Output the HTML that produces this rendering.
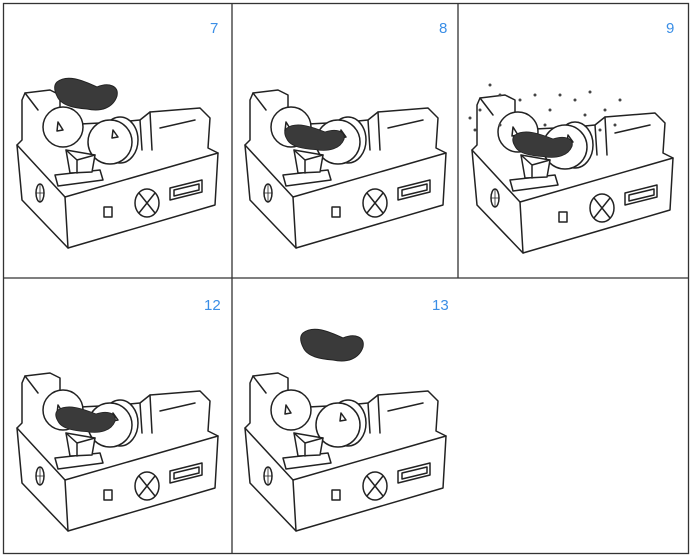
<!DOCTYPE html>
<html><head><style>html,body{margin:0;padding:0;background:#fff}svg{display:block}</style></head>
<body>
<svg width="692" height="557" viewBox="0 0 692 557" xmlns="http://www.w3.org/2000/svg">
<rect width="692" height="557" fill="#fff"/>
<defs>
<g id="m" fill="#fff" stroke="#222" stroke-width="1.5" stroke-linejoin="round" stroke-linecap="round">
 <path d="M17,145 L22,200 L68,248 L215,205 L218,153 L208,148 L210,118 L200,108 L150,112 L140,120 L120,122 L60,125 L60,95 L50,90 L25,93 L22,100 L22,140 Z"/>
 <path d="M17,145 L65,197 L218,153" fill="none"/>
 <path d="M65,197 L68,248" fill="none"/>
 <path d="M140,120 L142,150 M150,112 L152,150 M160,128 L195,120" fill="none"/>
 <path d="M25,93 L38,110" fill="none"/>
 <circle cx="63" cy="127" r="20"/>
 <path d="M58,122 L63,130 L57,131 Z" fill="#fff"/>
 <ellipse cx="120" cy="140" rx="18" ry="23"/>
 <circle cx="110" cy="142" r="22"/>
 <path d="M113,130 L118,137 L112,138 Z"/>
 <path d="M55,175 L100,170 L103,180 L58,186 Z"/>
 <path d="M66,150 L95,155 L92,172 L70,173 Z"/>
 <path d="M66,150 L77,160 L95,155 M77,160 L77,173" fill="none"/>
 <ellipse cx="40" cy="193" rx="4" ry="9"/>
 <path d="M36,193 L44,193 M40,184 L40,202" fill="none" stroke-width="0.8"/>
 <rect x="104" y="207" width="8" height="10"/>
 <ellipse cx="147" cy="203" rx="12" ry="14"/>
 <path d="M139,193 L155,213 M155,193 L139,213" fill="none"/>
 <path d="M170,188 L202,180 L202,192 L170,200 Z"/>
 <path d="M174,190 L199,184 L199,190 L174,196 Z" fill="none"/>
</g>
<path id="b" d="M0,0 C10,-8 25,-2 40,5 C52,0 62,4 60,14 C56,26 44,30 30,27 C18,26 4,24 0,14 C-3,8 -3,3 0,0 Z" fill="#3a3a3a" stroke="#222"/>
</defs>
<g fill="none" stroke="#333" stroke-width="1.3">
<rect x="3.5" y="3.5" width="685" height="550"/>
<line x1="232" y1="3" x2="232" y2="553"/>
<line x1="458" y1="3" x2="458" y2="278"/>
<line x1="3" y1="278" x2="688" y2="278"/>
</g>
<g font-family="Liberation Sans, sans-serif" font-size="15" fill="#3a8ee6">
<text x="210" y="33">7</text><text x="439" y="33">8</text><text x="666" y="33">9</text>
<text x="204" y="310">12</text><text x="432" y="310">13</text>
</g>
<use href="#m"/>
<use href="#b" transform="translate(57,82)"/>
<use href="#m" transform="translate(228,0)"/>
<use href="#b" transform="translate(287,128) scale(0.95,0.8)"/>
<use href="#m" transform="translate(455,5)"/>
<use href="#b" transform="translate(515,135) scale(0.95,0.8)"/>
<g fill="#444">
<circle cx="490" cy="85" r="1.5"/><circle cx="500" cy="95" r="1.5"/><circle cx="480" cy="110" r="1.5"/><circle cx="475" cy="130" r="1.5"/><circle cx="520" cy="100" r="1.5"/><circle cx="535" cy="95" r="1.5"/><circle cx="550" cy="110" r="1.5"/><circle cx="575" cy="100" r="1.5"/><circle cx="590" cy="92" r="1.5"/><circle cx="605" cy="110" r="1.5"/><circle cx="620" cy="100" r="1.5"/><circle cx="615" cy="125" r="1.5"/><circle cx="600" cy="130" r="1.5"/><circle cx="560" cy="95" r="1.5"/><circle cx="545" cy="125" r="1.5"/><circle cx="500" cy="125" r="1.5"/><circle cx="585" cy="115" r="1.5"/><circle cx="470" cy="118" r="1.5"/>
</g>
<use href="#m" transform="translate(0,283)"/>
<use href="#b" transform="translate(58,410) scale(0.95,0.8)"/>
<use href="#m" transform="translate(228,283)"/>
<use href="#b" transform="translate(303,333)"/>
</svg>
</body></html>
